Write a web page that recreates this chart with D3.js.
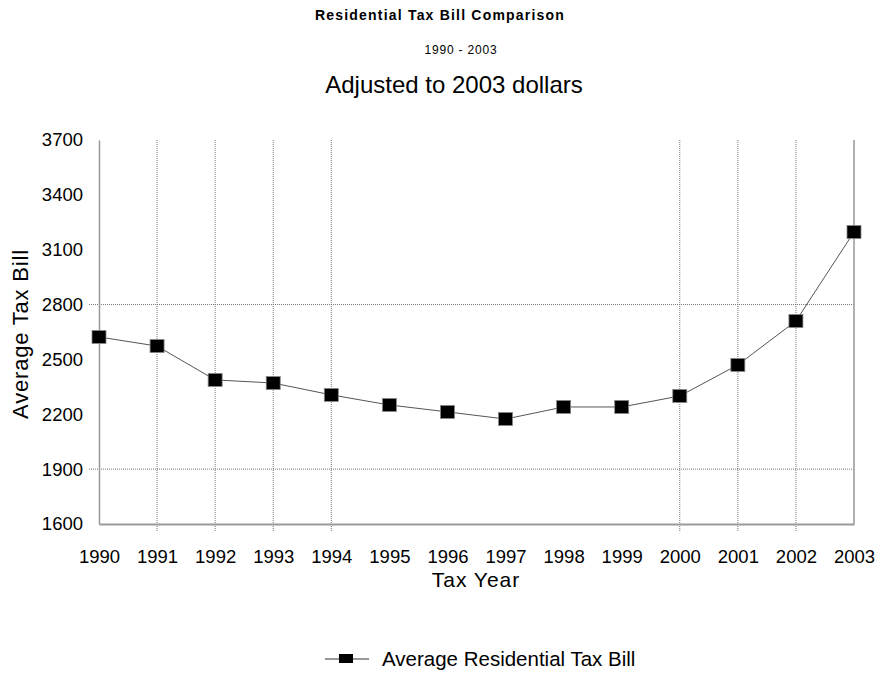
<!DOCTYPE html>
<html><head><meta charset="utf-8">
<script src="https://cdn.jsdelivr.net/npm/d3@7"></script>
<style>body{margin:0;background:#fff;} svg{display:block;font-family:"Liberation Sans",Arial,Helvetica,sans-serif;}</style>
</head><body>
<svg id="chart" width="880" height="675"></svg>
<script>
const years = [1990,1991,1992,1993,1994,1995,1996,1997,1998,1999,2000,2001,2002,2003];
const taxBill = [2623,2573,2388,2371,2306,2251,2213,2174,2240,2240,2300,2470,2710,3197];
const yTicks = [1600,1900,2200,2500,2800,3100,3400,3700];
const vGridYears = [1991,1992,1993,1994,2000,2001,2002];
const hGridValues = [1900,2800];
const seriesName = "Average Residential Tax Bill";

const svg = d3.select("#chart");
const x = d3.scaleLinear().domain([1990,2003]).range([99,854]);
const y = d3.scaleLinear().domain([1600,3700]).range([524,140]);

// titles
svg.append("text").attr("x",440).attr("y",20).attr("text-anchor","middle")
  .attr("font-size",14).attr("font-weight","bold").attr("letter-spacing",1.2)
  .text("Residential Tax Bill Comparison");
svg.append("text").attr("x",461).attr("y",54).attr("text-anchor","middle")
  .attr("font-size",12).attr("letter-spacing",0.8).text("1990 - 2003");
svg.append("text").attr("x",454).attr("y",93).attr("text-anchor","middle")
  .attr("font-size",24).text("Adjusted to 2003 dollars");

// gridlines
const g = svg.append("g");
g.selectAll(".vg").data(vGridYears).join("line")
  .attr("x1",d=>x(d)).attr("x2",d=>x(d)).attr("y1",y(3700)).attr("y2",y(1600)+8)
  .attr("stroke","#777").attr("stroke-width",1).attr("stroke-dasharray","1,1");
g.selectAll(".hg").data(hGridValues).join("line")
  .attr("x1",x(1990)-10).attr("x2",x(2003)).attr("y1",d=>y(d)).attr("y2",d=>y(d))
  .attr("stroke","#777").attr("stroke-width",1).attr("stroke-dasharray","1,1");

// axes
const yAxis = d3.axisLeft(y).tickValues(yTicks).tickSize(0).tickPadding(16).tickFormat(d3.format("d"));
const ya = svg.append("g").attr("transform",`translate(${x(1990)},0)`).call(yAxis);
ya.select(".domain").attr("stroke","#999").attr("stroke-width",1.5);
ya.selectAll("text").attr("font-size",18.5).attr("fill","#000")
  .attr("font-family","'Liberation Sans',Arial,sans-serif");

const xAxis = d3.axisBottom(x).tickValues(years).tickSize(0).tickPadding(26).tickFormat(d3.format("d"));
const xa = svg.append("g").attr("transform",`translate(0,${y(1600)})`).call(xAxis);
xa.select(".domain").attr("stroke","#999").attr("stroke-width",2);
xa.selectAll("text").attr("font-size",18.5).attr("fill","#000")
  .attr("font-family","'Liberation Sans',Arial,sans-serif");

// right border
svg.append("line").attr("x1",x(2003)).attr("x2",x(2003)).attr("y1",y(3700)).attr("y2",y(1600))
  .attr("stroke","#999").attr("stroke-width",1.5);

// axis titles
svg.append("text").attr("x",476).attr("y",587).attr("text-anchor","middle")
  .attr("font-size",21).attr("letter-spacing",1).text("Tax Year");
svg.append("text").attr("transform",`translate(28,${(y(3700)+y(1600))/2 + 2}) rotate(-90)`)
  .attr("text-anchor","middle").attr("font-size",22).attr("letter-spacing",0.8).text("Average Tax Bill");

// line
const data = years.map((yr,i)=>({yr, v:taxBill[i]}));
svg.append("path").datum(data)
  .attr("d", d3.line().x(d=>x(d.yr)).y(d=>y(d.v)))
  .attr("fill","none").attr("stroke","#555").attr("stroke-width",1);

svg.selectAll(".m").data(data).join("rect")
  .attr("x",d=>x(d.yr)-7).attr("y",d=>y(d.v)-6.5).attr("width",14).attr("height",13)
  .attr("fill","#000").attr("stroke","#888").attr("stroke-width",0.8);

// legend
const lg = svg.append("g");
lg.append("line").attr("x1",325).attr("x2",369).attr("y1",659).attr("y2",659).attr("stroke","#333").attr("stroke-width",1.2);
lg.append("rect").attr("x",339).attr("y",654).attr("width",14).attr("height",9).attr("fill","#000");
lg.append("text").attr("x",382).attr("y",666).attr("font-size",20.5).text(seriesName);
</script>
</body></html>
